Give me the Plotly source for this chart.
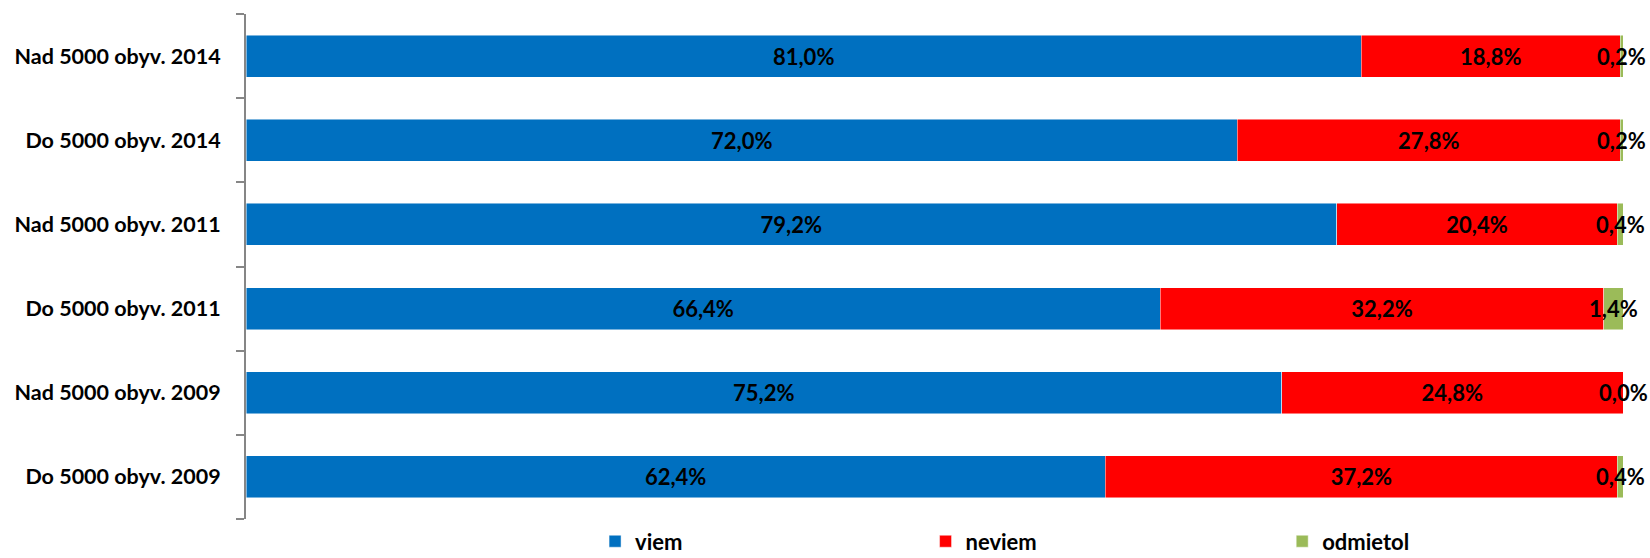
import plotly.graph_objects as go

# Categories listed bottom-to-top
categories = [
    "Do 5000 obyv. 2009",
    "Nad 5000 obyv. 2009",
    "Do 5000 obyv. 2011",
    "Nad 5000 obyv. 2011",
    "Do 5000 obyv. 2014",
    "Nad 5000 obyv. 2014",
]
viem = [62.4, 75.2, 66.4, 79.2, 72.0, 81.0]
neviem = [37.2, 24.8, 32.2, 20.4, 27.8, 18.8]
odmietol = [0.4, 0.0, 1.4, 0.4, 0.2, 0.2]

series = [
    ("viem", viem, "#0070C0"),
    ("neviem", neviem, "#FF0000"),
    ("odmietol", odmietol, "#9BBB59"),
]

FONT = "Lato"
LABEL_SIZE = 22
# left edge of each legend box, as a fraction of the plot width
legend_pos = {"viem": 0.2535, "neviem": 0.4935, "odmietol": 0.7525}

fig = go.Figure()
for i, (name, vals, color) in enumerate(series):
    show_text = name != "odmietol"
    lg = "legend" if i == 0 else f"legend{i + 1}"
    fig.add_trace(go.Bar(
        y=categories, x=vals, name=name, orientation="h",
        marker=dict(color=color, line=dict(color="rgba(255,255,255,0.6)", width=0.8)),
        texttemplate="%{x:.1f}%" if show_text else None,
        textposition="inside" if show_text else "none",
        insidetextanchor="middle",
        textfont=dict(family=FONT, size=LABEL_SIZE, color="black", weight="bold"),
        legend=lg,
        hoverinfo="x+y+name",
    ))

# Labels for the small "odmietol" segments, centered on each segment
for cat, v, n, o in zip(categories, viem, neviem, odmietol):
    fig.add_annotation(
        x=v + n + o / 2, y=cat, xref="x", yref="y",
        text=f"{o:.1f}".replace(".", ",") + "%",
        showarrow=False, xanchor="center", yanchor="middle",
        font=dict(family=FONT, size=LABEL_SIZE, color="black", weight="bold"),
    )

legend_common = dict(
    orientation="h", y=-0.086, yanchor="bottom", xref="paper", xanchor="left",
    font=dict(family=FONT, size=LABEL_SIZE, color="black", weight="bold"),
    bgcolor="rgba(0,0,0,0)", itemwidth=30,
)
fig.update_layout(
    barmode="stack",
    bargap=0.5,
    separators=", ",
    width=1650, height=558,
    margin=dict(l=246, r=27, t=14, b=39, autoexpand=False),
    paper_bgcolor="white", plot_bgcolor="white",
    showlegend=True,
    legend=dict(x=legend_pos["viem"], **legend_common),
    legend2=dict(x=legend_pos["neviem"], **legend_common),
    legend3=dict(x=legend_pos["odmietol"], **legend_common),
    xaxis=dict(range=[0, 100], visible=False, fixedrange=True),
    yaxis=dict(
        showline=True, linecolor="#868686", linewidth=2,
        ticks="outside", tickson="boundaries", ticklen=8, tickcolor="#868686", tickwidth=2,
        ticklabelstandoff=19,
        tickfont=dict(family=FONT, size=21.5, color="black", weight="bold"),
        showgrid=False, zeroline=False,
    ),
)

fig.write_html("out.html")
